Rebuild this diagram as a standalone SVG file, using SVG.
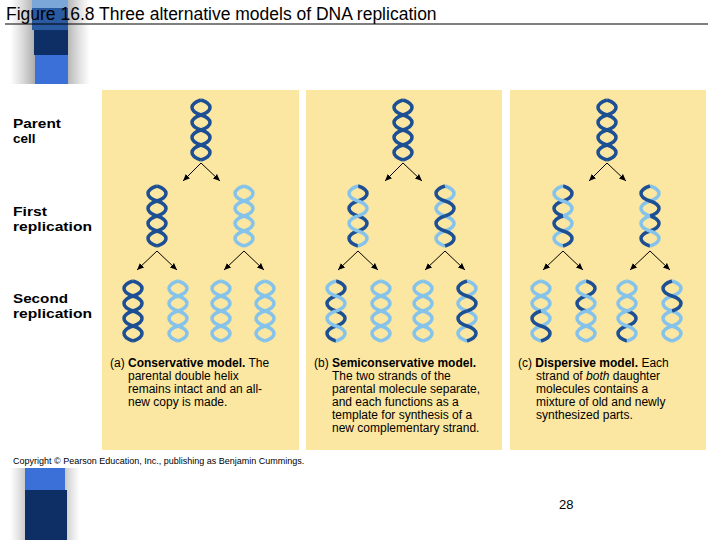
<svg xmlns="http://www.w3.org/2000/svg" xmlns:xlink="http://www.w3.org/1999/xlink" width="720" height="540" viewBox="0 0 720 540">
<style>
.t{font-family:"Liberation Sans",Arial,sans-serif}
.lbl{font-family:"Liberation Sans",Arial,sans-serif;font-weight:bold;font-size:13.5px;fill:#000}
.cap{font-family:"Liberation Sans",Arial,sans-serif;font-size:12px;fill:#000}
.panel{fill:#fbe7a1}
.s{fill:none;stroke-width:3.5;stroke-linecap:butt}
.d{stroke:#1d4f94}
.l{stroke:#86c3ea}
.arr{stroke:#000;stroke-width:1;fill:none;marker-end:url(#ah)}
</style>
<defs>
<marker id="ah" markerWidth="8" markerHeight="8" refX="7" refY="4" orient="auto" markerUnits="userSpaceOnUse"><path d="M0,1 L7,4 L0,7 Z" fill="#000"/></marker>
<path id="at" d="M0,0 C12,4 12,11 0,15 C-12,19 -12,26 0,30"/>
<path id="ab" d="M0,30 C12,34 12,41 0,45 C-12,49 -12,56 0,60"/>
<path id="bt" d="M0,0 C-12,4 -12,11 0,15 C12,19 12,26 0,30"/>
<path id="bb" d="M0,30 C-12,34 -12,41 0,45 C12,49 12,56 0,60"/>
<linearGradient id="sh" x1="0" x2="1"><stop offset="0" stop-color="#999" stop-opacity="0"/><stop offset="0.5" stop-color="#666"/><stop offset="1" stop-color="#999" stop-opacity="0"/></linearGradient>
</defs>
<rect width="720" height="540" fill="#fff"/>
<g id="decor">
<rect x="10" y="0" width="80" height="86" fill="url(#sh)"/>
<rect x="32" y="0" width="36" height="8" fill="#7aa6d8"/>
<rect x="32" y="8" width="36" height="22" fill="#2a5aa0"/>
<rect x="34" y="30" width="34" height="25" fill="#0d2f66"/>
<rect x="35" y="55" width="33" height="31" fill="#3b70d8"/>
<rect x="10" y="468" width="70" height="72" fill="url(#sh)"/>
<rect x="25" y="468" width="40" height="22" fill="#3b70d8"/>
<rect x="25" y="490" width="42" height="50" fill="#0d2f66"/>
</g>
<text class="t" x="6" y="20" font-size="17.5">Figure 16.8  Three alternative models of DNA replication</text>
<line x1="5" y1="24" x2="708" y2="24" stroke="#000" stroke-width="1.2"/>
<rect x="5" y="84" width="705" height="384" fill="#fff"/>
<g id="labels">
<text class="lbl" x="13" y="128" textLength="48" lengthAdjust="spacingAndGlyphs">Parent</text><text class="lbl" x="13" y="143">cell</text>
<text class="lbl" x="13" y="216" textLength="34" lengthAdjust="spacingAndGlyphs">First</text><text class="lbl" x="13" y="231" textLength="79" lengthAdjust="spacingAndGlyphs">replication</text>
<text class="lbl" x="13" y="303" textLength="55" lengthAdjust="spacingAndGlyphs">Second</text><text class="lbl" x="13" y="318" textLength="79" lengthAdjust="spacingAndGlyphs">replication</text>
</g>
<g id="panelA">
<rect class="panel" x="102" y="90" width="197" height="360"/>
<g class="s">
<g transform="translate(201,100)"><use href="#at" class="d"/><use href="#ab" class="d"/><use href="#bt" class="d"/><use href="#bb" class="d"/></g>
<g transform="translate(157,186)"><use href="#at" class="d"/><use href="#ab" class="d"/><use href="#bt" class="d"/><use href="#bb" class="d"/></g>
<g transform="translate(244,186)"><use href="#at" class="l"/><use href="#ab" class="l"/><use href="#bt" class="l"/><use href="#bb" class="l"/></g>
<g transform="translate(133,281)"><use href="#at" class="d"/><use href="#ab" class="d"/><use href="#bt" class="d"/><use href="#bb" class="d"/></g>
<g transform="translate(178,281)"><use href="#at" class="l"/><use href="#ab" class="l"/><use href="#bt" class="l"/><use href="#bb" class="l"/></g>
<g transform="translate(221,281)"><use href="#at" class="l"/><use href="#ab" class="l"/><use href="#bt" class="l"/><use href="#bb" class="l"/></g>
<g transform="translate(265,281)"><use href="#at" class="l"/><use href="#ab" class="l"/><use href="#bt" class="l"/><use href="#bb" class="l"/></g>
</g>
<text class="cap" x="110" y="367"><tspan>(a) </tspan><tspan font-weight="bold">Conservative model.</tspan> The</text>
<text class="cap" x="128" y="380">parental double helix</text>
<text class="cap" x="128" y="393">remains intact and an all-</text>
<text class="cap" x="128" y="406">new copy is made.</text>
</g>
<g id="panelB">
<rect class="panel" x="306" y="90" width="196" height="360"/>
<g class="s">
<g transform="translate(403,100)"><use href="#at" class="d"/><use href="#ab" class="d"/><use href="#bt" class="d"/><use href="#bb" class="d"/></g>
<g transform="translate(358,186)"><use href="#at" class="d"/><use href="#ab" class="d"/><use href="#bt" class="l"/><use href="#bb" class="l"/></g>
<g transform="translate(445,186)"><use href="#at" class="l"/><use href="#ab" class="l"/><use href="#bt" class="d"/><use href="#bb" class="d"/></g>
<g transform="translate(336,281)"><use href="#at" class="d"/><use href="#ab" class="d"/><use href="#bt" class="l"/><use href="#bb" class="l"/></g>
<g transform="translate(381,281)"><use href="#at" class="l"/><use href="#ab" class="l"/><use href="#bt" class="l"/><use href="#bb" class="l"/></g>
<g transform="translate(423,281)"><use href="#at" class="l"/><use href="#ab" class="l"/><use href="#bt" class="l"/><use href="#bb" class="l"/></g>
<g transform="translate(467,281)"><use href="#at" class="l"/><use href="#ab" class="l"/><use href="#bt" class="d"/><use href="#bb" class="d"/></g>
</g>
<text class="cap" x="314" y="367"><tspan>(b) </tspan><tspan font-weight="bold">Semiconservative model.</tspan></text>
<text class="cap" x="332" y="380">The two strands of the</text>
<text class="cap" x="332" y="393">parental molecule separate,</text>
<text class="cap" x="332" y="406">and each functions as a</text>
<text class="cap" x="332" y="419">template for synthesis of a</text>
<text class="cap" x="332" y="432">new complementary strand.</text>
</g>
<g id="panelC">
<rect class="panel" x="510" y="90" width="196" height="360"/>
<g class="s">
<g transform="translate(607,100)"><use href="#at" class="d"/><use href="#ab" class="d"/><use href="#bt" class="d"/><use href="#bb" class="d"/></g>
<g transform="translate(563,186)"><use href="#at" class="d"/><use href="#ab" class="l"/><use href="#bt" class="l"/><use href="#bb" class="d"/></g>
<g transform="translate(650,186)"><use href="#at" class="l"/><use href="#ab" class="d"/><use href="#bt" class="d"/><use href="#bb" class="l"/></g>
<g transform="translate(541,281)"><use href="#at" class="l"/><use href="#ab" class="l"/><use href="#bt" class="l"/><use href="#bb" class="d"/></g>
<g transform="translate(586,281)"><use href="#at" class="d"/><use href="#ab" class="l"/><use href="#bt" class="l"/><use href="#bb" class="l"/></g>
<g transform="translate(627,281)"><use href="#at" class="l"/><use href="#ab" class="d"/><use href="#bt" class="l"/><use href="#bb" class="l"/></g>
<g transform="translate(672,281)"><use href="#at" class="l"/><use href="#ab" class="l"/><use href="#bt" class="d"/><use href="#bb" class="l"/></g>
</g>
<text class="cap" x="518" y="367"><tspan>(c) </tspan><tspan font-weight="bold">Dispersive model.</tspan> Each</text>
<text class="cap" x="536" y="380">strand of <tspan font-style="italic">both</tspan> daughter</text>
<text class="cap" x="536" y="393">molecules contains a</text>
<text class="cap" x="536" y="406">mixture of old and newly</text>
<text class="cap" x="536" y="419">synthesized parts.</text>
</g>
<g id="connectors">
<line class="arr" x1="201" y1="163" x2="183" y2="181"/><line class="arr" x1="201" y1="163" x2="220" y2="181"/>
<line class="arr" x1="157" y1="251" x2="137" y2="270"/><line class="arr" x1="157" y1="251" x2="177" y2="270"/>
<line class="arr" x1="244" y1="251" x2="224" y2="270"/><line class="arr" x1="244" y1="251" x2="264" y2="270"/>
<line class="arr" x1="403" y1="163" x2="385" y2="181"/><line class="arr" x1="403" y1="163" x2="422" y2="181"/>
<line class="arr" x1="358" y1="251" x2="338" y2="270"/><line class="arr" x1="358" y1="251" x2="378" y2="270"/>
<line class="arr" x1="445" y1="251" x2="425" y2="270"/><line class="arr" x1="445" y1="251" x2="465" y2="270"/>
<line class="arr" x1="607" y1="163" x2="589" y2="181"/><line class="arr" x1="607" y1="163" x2="626" y2="181"/>
<line class="arr" x1="563" y1="251" x2="543" y2="270"/><line class="arr" x1="563" y1="251" x2="583" y2="270"/>
<line class="arr" x1="650" y1="251" x2="630" y2="270"/><line class="arr" x1="650" y1="251" x2="670" y2="270"/>
</g>
<text class="t" x="13" y="464" font-size="9">Copyright © Pearson Education, Inc., publishing as Benjamin Cummings.</text>
<text class="t" x="559" y="509" font-size="13">28</text>
</svg>
